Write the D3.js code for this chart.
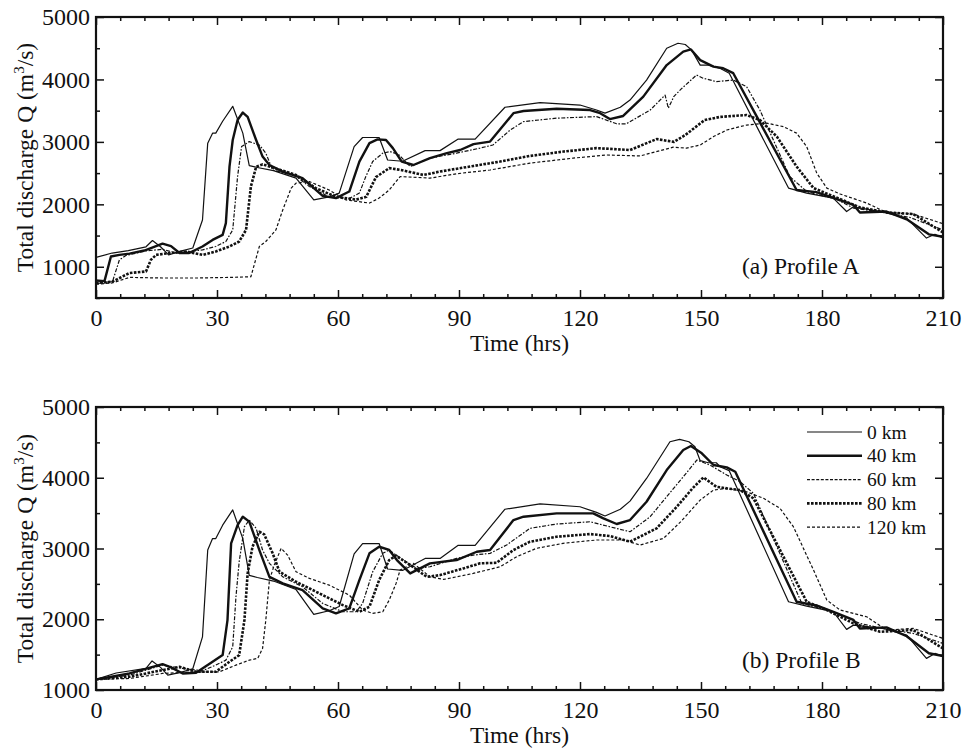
<!DOCTYPE html>
<html><head><meta charset="utf-8">
<script src="https://cdn.jsdelivr.net/npm/d3@7/dist/d3.min.js"></script>
<style>
html,body{margin:0;padding:0;background:#fff;}
text{font-family:"Liberation Serif","Times New Roman",serif;fill:#111;}
</style></head>
<body><svg id="chart" width="964" height="752"></svg>
<script>
// ---------- DATA (time in hrs, discharge in m3/s) ----------
const seriesNames = ["0 km","40 km","60 km","80 km","120 km"];
const xTicks = [0,30,60,90,120,150,180,210];
const yTicksA = [1000,2000,3000,4000,5000];
const yTicksB = [1000,2000,3000,4000,5000];

const A0 = [[0,1150],[4,1220],[8,1260],[12.4,1320],[14,1420],[16,1320],[18,1190],[21,1250],[24,1300],[26.4,1750],[27.7,2980],[28.9,3140],[29.7,3140],[31.4,3330],[33.9,3570],[36.4,3140],[38,2620],[40,2590],[44,2540],[49.6,2420],[54,2070],[57.8,2120],[60.3,2180],[64,2925],[66.1,3070],[70.2,3070],[72.3,2710],[76,2690],[81.6,2860],[85.3,2860],[89.8,3045],[94,3045],[101.4,3555],[110.1,3630],[120,3590],[124.1,3510],[126.2,3460],[130,3555],[132.4,3670],[136.5,3990],[141.5,4500],[144.3,4580],[146.1,4560],[147.7,4470],[149.8,4230],[151.8,4230],[154.7,4180],[157,4100],[171.7,2260],[176.2,2180],[182.8,2100],[186.1,1885],[187.8,1960],[195,1880],[201,1780],[205.9,1460],[208,1520],[210,1460]];
const A40 = [[0,780],[2.1,770],[3.7,1165],[5.8,1190],[8.3,1210],[12,1260],[16.5,1370],[18.6,1330],[20.7,1220],[23.1,1220],[26.4,1325],[28.9,1430],[31.4,1510],[32.2,1700],[33.1,2605],[33.9,3030],[35.1,3350],[36.4,3470],[37.6,3400],[39.7,3030],[41.3,2765],[43,2630],[46.3,2525],[51.2,2420],[56.2,2135],[59.5,2100],[62.8,2205],[65.3,2685],[67.8,2980],[69.8,3040],[71.9,3030],[73.6,2900],[75.8,2685],[78.7,2630],[82.8,2740],[87,2820],[90.3,2870],[93.6,2965],[97.7,3005],[103.5,3460],[106,3495],[114.2,3530],[122.5,3510],[125,3460],[127.4,3365],[130.7,3415],[135.7,3725],[141.5,4230],[145.6,4445],[147.5,4480],[149.8,4310],[153.1,4205],[155.5,4180],[158,4100],[173.7,2230],[178.6,2195],[183,2100],[187.8,1990],[189.4,1870],[196,1885],[201,1760],[206.5,1520],[210,1480]];
const A60 = [[0,730],[4.1,765],[5.8,1110],[7.4,1180],[12.4,1255],[16.5,1280],[19.8,1220],[23.1,1245],[26.4,1270],[29.7,1325],[32.2,1405],[33.9,1590],[35.1,2445],[36.1,2925],[38,3005],[40.5,2950],[42.1,2820],[43.8,2550],[49.6,2450],[52.9,2285],[57.8,2120],[62.8,2095],[65.3,2180],[66.9,2445],[68.6,2685],[71.1,2820],[72.9,2845],[75,2800],[77.9,2605],[82.8,2740],[89.4,2820],[95.2,2900],[98.4,2950],[102.7,3190],[106,3325],[114.2,3380],[124.1,3405],[129.1,3290],[131.5,3290],[137.4,3510],[141.1,3750],[141.9,3540],[143.3,3730],[145.3,3860],[148.9,4070],[150.5,4020],[153.8,3965],[158,3990],[161.3,3885],[164.6,3510],[172,2445],[176.2,2205],[183.6,2080],[187.8,1940],[195.2,1870],[201.8,1790],[210,1590]];
const A80 = [[0,740],[4,760],[8.3,900],[12.4,925],[13.6,1110],[14.9,1190],[18.2,1220],[22.3,1245],[26.4,1190],[29.7,1245],[33.1,1325],[35.5,1405],[37.2,1590],[38.4,2285],[39.7,2600],[41.3,2640],[43.8,2590],[49.6,2470],[54.5,2260],[59.5,2120],[64.5,2075],[67,2120],[69.4,2435],[72.7,2580],[75.6,2550],[81.2,2470],[85.3,2525],[93.6,2615],[100.2,2685],[107.6,2775],[115.9,2845],[124.1,2900],[132.4,2870],[139,3045],[143.3,3000],[146.1,3110],[150.9,3350],[154.7,3400],[161.3,3430],[164.6,3350],[168.8,3085],[173.7,2605],[177.9,2260],[182.8,2130],[189.4,1950],[196,1870],[202.6,1845],[210,1550]];
const A120 = [[0,720],[4,740],[8.3,830],[16.5,820],[24.8,820],[33.1,830],[38.4,840],[40.5,1325],[42.1,1405],[44.6,1590],[46.3,1910],[48.4,2260],[49.6,2340],[52.9,2365],[57.8,2230],[62,2070],[67.8,2020],[70.2,2100],[72.7,2230],[75.4,2445],[82.8,2420],[89.4,2490],[97.7,2550],[107.6,2660],[118.3,2740],[126.6,2790],[134.9,2775],[143.1,2915],[146.4,2900],[149.8,2950],[153.1,3085],[156.4,3190],[161.3,3270],[166.3,3300],[170.4,3245],[173.7,3140],[176.2,2925],[178.7,2500],[181.2,2260],[184.5,2165],[191.1,2020],[196,1870],[202.6,1845],[210,1690]];

const B0 = [[0,1150],[5,1240],[12.4,1305],[13.9,1410],[16,1320],[17.8,1210],[21,1250],[24,1300],[26.4,1750],[27.7,2980],[28.9,3140],[29.7,3140],[31.4,3330],[33.9,3545],[36.4,3140],[38,2620],[40,2590],[44,2540],[49.6,2420],[54,2070],[57.8,2120],[60.3,2180],[64,2925],[66.1,3070],[70.2,3070],[72.3,2710],[76,2690],[81.6,2860],[85.3,2860],[89.8,3045],[94,3045],[101.4,3555],[110.1,3630],[120,3590],[124.1,3510],[126.2,3460],[130,3555],[132.4,3670],[136.5,3990],[142.3,4509],[144.7,4543],[147,4509],[148.5,4439],[149.8,4241],[151.8,4212],[153.8,4212],[154.7,4156],[157,4100],[171.7,2247],[176.2,2186],[182.8,2106],[186.1,1857],[187.8,1917],[195.2,1871],[201,1776],[205.9,1447],[208,1517],[210,1470]];
const B40 = [[0,1150],[8.3,1234],[16.5,1366],[18.6,1320],[21.5,1234],[24.8,1243],[28.9,1400],[31.4,1493],[32.6,1988],[33.5,3073],[35.1,3331],[36.4,3449],[38,3380],[40.5,2978],[43,2600],[46.3,2507],[51.2,2413],[56.2,2154],[59.5,2083],[62.8,2154],[65.3,2554],[67.8,2932],[70.2,3025],[72.7,2980],[74.6,2837],[77.9,2648],[82.8,2790],[89.4,2837],[94.4,2954],[97.7,2978],[103.5,3402],[106,3449],[114.2,3497],[123.3,3497],[125.8,3426],[129.1,3346],[132.4,3402],[136.5,3661],[141.5,4109],[145.6,4392],[147.5,4449],[150.2,4345],[153.1,4180],[156.4,4147],[158.5,4085],[173.7,2247],[178.6,2195],[183,2100],[187.8,1990],[189.4,1870],[196,1885],[201,1760],[206.5,1520],[210,1480]];
const B60 = [[0,1150],[8.3,1210],[16.5,1352],[21.5,1305],[26.4,1272],[29.7,1352],[32.2,1422],[33.9,1611],[34.7,2318],[35.5,2813],[36.8,3308],[38,3402],[39.7,3285],[41.3,2978],[43,2790],[46.3,2600],[51.2,2459],[56.2,2224],[61.2,2106],[64.5,2106],[66.1,2224],[68.6,2671],[71.1,2932],[72.7,2978],[74.4,2907],[76.2,2837],[79.5,2719],[82.8,2742],[89.4,2860],[93.5,2907],[97.7,2931],[101.8,3049],[107.6,3285],[114.2,3346],[122.5,3378],[127.4,3307],[132.4,3237],[137.4,3449],[141.5,3732],[145.6,4014],[149,4251],[152.2,4180],[156.4,4039],[159.7,3944],[163,3780],[175,2223],[182.8,2106],[189.4,1941],[196,1857],[202.6,1800],[210,1659]];
const B80 = [[0,1150],[8.3,1187],[16.5,1281],[20.7,1328],[24.8,1257],[29.7,1257],[33.1,1399],[35.5,1493],[36.8,1988],[37.6,2648],[38.8,3025],[40.5,3237],[41.7,3200],[43.8,2932],[45.5,2671],[49.6,2530],[56.2,2342],[61.2,2200],[65.3,2106],[67.8,2177],[70.2,2554],[72.7,2837],[74.4,2900],[75.4,2860],[77.9,2766],[82,2600],[85.3,2624],[91.1,2719],[95.2,2790],[99.3,2798],[103.5,2978],[107.6,3096],[114.2,3166],[122.5,3204],[127.4,3176],[132.4,3096],[139,3285],[144,3590],[147.9,3850],[150.6,4005],[153.8,3873],[156.4,3850],[159.7,3826],[163,3709],[176.2,2247],[181.2,2130],[187.8,1941],[194.4,1823],[202.6,1847],[210,1588]];
const B120 = [[0,1150],[8.3,1163],[16.5,1234],[24.8,1257],[30.6,1257],[34.7,1352],[38,1422],[40.1,1447],[41.3,1588],[42.1,1988],[43,2554],[44.2,2766],[45.9,3002],[47.5,2907],[49.6,2671],[52.9,2578],[57.8,2483],[62.8,2342],[66.1,2130],[68.6,2083],[71.1,2106],[72.7,2271],[74.4,2507],[75.4,2695],[78.7,2790],[82.8,2600],[86.2,2563],[93.5,2648],[100.2,2742],[104.3,2884],[109.2,3002],[115.8,3073],[124.1,3120],[130.7,3120],[134.9,3049],[140.7,3143],[145,3380],[149.8,3685],[153.1,3826],[156.4,3850],[161.3,3802],[165.5,3709],[169.6,3567],[172.9,3308],[177.9,2695],[181.2,2271],[184.5,2130],[191.1,2035],[196,1847],[202.6,1871],[210,1729]];

// ---------- STYLES ----------
const styles = [
  {w:1.2, dash:null},
  {w:2.4, dash:null},
  {w:1.2, dash:"4,1.6,1.6,1.6"},
  {w:2.6, dash:"2.6,1.4"},
  {w:1.2, dash:"3,2"}
];

const svg = d3.select("#chart");
const TICKFONT = 24, TITLEFONT = 23.5;
const x = d3.scaleLinear().domain([0,210]).range([96,943]);

const panels = [
  {top:17, bottom:298, ymin:500, yticks:yTicksA, data:[A0,A40,A60,A80,A120], label:"(a) Profile A", labelY:274, legend:false},
  {top:407, bottom:690, ymin:1000, yticks:yTicksB, data:[B0,B40,B60,B80,B120], label:"(b) Profile B", labelY:668, legend:true}
];

panels.forEach((p,pi)=>{
  const y = d3.scaleLinear().domain([p.ymin,5000]).range([p.bottom,p.top]);
  const g = svg.append("g");
  const xMinor = d3.range(0,211,6).filter(v=>v%30!==0);
  const yMinor = d3.range(p.ymin,5001,500).filter(v=>v%1000!==0);

  const styleAxis = sel => { sel.select(".domain").remove(); sel.selectAll("line").attr("stroke","#111").attr("stroke-width",1.5); sel.selectAll("text").style("font-size",TICKFONT+"px").attr("fill","#111"); };

  g.append("g").attr("transform",`translate(0,${p.bottom})`)
    .call(d3.axisBottom(x).tickValues(xTicks).tickSize(-8).tickPadding(11).tickFormat(d3.format("d"))).call(styleAxis);
  g.append("g").attr("transform",`translate(0,${p.bottom})`)
    .call(d3.axisBottom(x).tickValues(xMinor).tickSize(-4).tickFormat("")).call(styleAxis);
  g.append("g").attr("transform",`translate(0,${p.top})`)
    .call(d3.axisTop(x).tickValues(xTicks).tickSize(-8).tickFormat("")).call(styleAxis);
  g.append("g").attr("transform",`translate(0,${p.top})`)
    .call(d3.axisTop(x).tickValues(xMinor).tickSize(-4).tickFormat("")).call(styleAxis);
  g.append("g").attr("transform",`translate(96,0)`)
    .call(d3.axisLeft(y).tickValues(p.yticks).tickSize(-8).tickPadding(6).tickFormat(d3.format("d"))).call(styleAxis);
  g.append("g").attr("transform",`translate(96,0)`)
    .call(d3.axisLeft(y).tickValues(yMinor).tickSize(-4).tickFormat("")).call(styleAxis);
  g.append("g").attr("transform",`translate(943,0)`)
    .call(d3.axisRight(y).tickValues(p.yticks).tickSize(-8).tickFormat("")).call(styleAxis);
  g.append("g").attr("transform",`translate(943,0)`)
    .call(d3.axisRight(y).tickValues(yMinor).tickSize(-4).tickFormat("")).call(styleAxis);

  const clipId = "clip"+pi;
  svg.append("clipPath").attr("id",clipId).append("rect")
    .attr("x",96).attr("y",p.top).attr("width",943-96).attr("height",p.bottom-p.top);
  p.data.forEach((d,i)=>{
    const st = styles[i];
    const line = d3.line().x(v=>x(v[0])).y(v=>y(v[1]));
    g.append("path").datum(d).attr("d",line).attr("fill","none")
      .attr("stroke","#111").attr("stroke-width",st.w)
      .attr("stroke-dasharray",st.dash).attr("stroke-linejoin","round")
      .attr("clip-path",`url(#${clipId})`);
  });

  g.append("rect").attr("x",96).attr("y",p.top).attr("width",943-96).attr("height",p.bottom-p.top)
    .attr("fill","none").attr("stroke","#111").attr("stroke-width",2.2);

  g.append("text").attr("x",(96+943)/2).attr("y",p.bottom+53).attr("text-anchor","middle")
    .style("font-size",TITLEFONT+"px").text("Time (hrs)");
  const yl = g.append("text").attr("transform",`translate(33,${(p.top+p.bottom)/2}) rotate(-90)`)
    .attr("text-anchor","middle").style("font-size",TITLEFONT+"px");
  yl.append("tspan").text("Total discharge Q (m");
  yl.append("tspan").attr("dy",-9).style("font-size","15px").text("3");
  yl.append("tspan").attr("dy",9).text("/s)");

  g.append("text").attr("x",742).attr("y",p.labelY).style("font-size",TITLEFONT+"px").text(p.label);

  if(p.legend){
    const lg = g.append("g");
    seriesNames.forEach((n,i)=>{
      const yy = 432 + i*23.8;
      const st = styles[i];
      lg.append("line").attr("x1",807).attr("x2",862).attr("y1",yy).attr("y2",yy)
        .attr("stroke","#111").attr("stroke-width",st.w).attr("stroke-dasharray",i===2?"3,1.6":st.dash);
      lg.append("text").attr("x",867).attr("y",yy+6.5).style("font-size","19.5px").text(n);
    });
  }
});
</script></body></html>
